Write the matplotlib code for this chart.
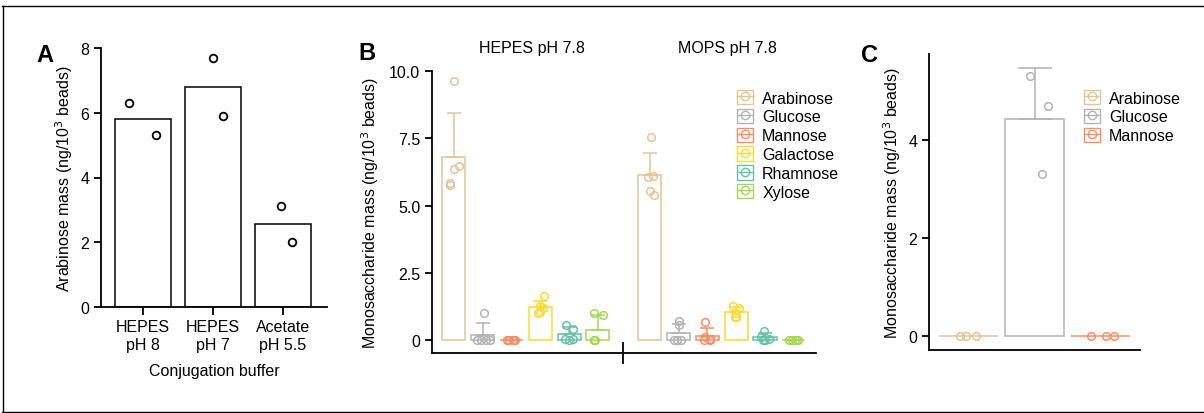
import numpy as np
import matplotlib
matplotlib.use('Agg')
import matplotlib.pyplot as plt
from matplotlib.patches import Rectangle
from matplotlib.lines import Line2D
from matplotlib.legend_handler import HandlerTuple

plt.rcParams['font.family'] = ['Liberation Sans', 'DejaVu Sans']
plt.rcParams['font.size'] = 11.5
plt.rcParams['axes.linewidth'] = 1.3
plt.rcParams['xtick.major.width'] = 1.3
plt.rcParams['ytick.major.width'] = 1.3
plt.rcParams['xtick.major.size'] = 5.5
plt.rcParams['ytick.major.size'] = 5

# panel A
buffers = ['HEPES\npH 8', 'HEPES\npH 7', 'Acetate\npH 5.5']
ara_mean = [5.81, 6.80, 2.56]
ara_points = [[6.30, 5.32], [7.69, 5.91], [3.12, 2.02]]
ara_jitter = [[-0.2, 0.19], [0.0, 0.14], [-0.03, 0.13]]

# panel B
sugars = ['Arabinose', 'Glucose', 'Mannose', 'Galactose', 'Rhamnose', 'Xylose']
sugar_colors = ['#E5C494', '#B3B3B3', '#FC8D62', '#FFD92F', '#66C2A5', '#A6D854']
buffers_b = ['HEPES pH 7.8', 'MOPS pH 7.8']
hepes_points = [
    [9.65, 5.78, 5.85, 6.36, 6.47],
    [0.99, 0.0, 0.0, 0.0, 0.0],
    [0.0, 0.0, 0.0, 0.0, 0.0],
    [1.63, 1.25, 1.18, 0.99, 1.05],
    [0.58, 0.42, 0.05, 0.0, 0.05],
    [1.0, 0.95, 0.0, 0.0, 0.0],
]
mops_points = [
    [7.54, 6.05, 6.10, 5.56, 5.40],
    [0.72, 0.55, 0.0, 0.0, 0.0],
    [0.66, 0.12, 0.05, 0.0, 0.0],
    [1.25, 1.20, 1.0, 0.85, 0.85],
    [0.35, 0.10, 0.05, 0.0, 0.0],
    [0.02, 0.0, 0.0, 0.01, 0.0],
]
hepes_jitter = [
    [0.0, -0.14, -0.14, 0.0, 0.16],
    [0.05, -0.2, -0.05, 0.1, 0.25],
    [-0.15, -0.1, 0.05, 0.1, 0.12],
    [0.14, 0.0, 0.1, -0.08, -0.02],
    [-0.1, 0.14, -0.15, 0.0, 0.15],
    [-0.12, 0.18, -0.12, -0.1, -0.14],
]
mops_jitter = [
    [0.03, -0.05, 0.1, 0.01, 0.15],
    [0.0, 0.0, -0.16, 0.1, -0.05],
    [-0.07, -0.1, 0.08, -0.12, 0.1],
    [-0.1, 0.08, -0.02, -0.05, 0.0],
    [-0.05, -0.15, 0.15, 0.0, -0.08],
    [-0.15, -0.05, 0.05, 0.15, 0.1],
]

# panel C
sugars_c = ['Arabinose', 'Glucose', 'Mannose']
colors_c = ['#E5C494', '#B3B3B3', '#FC8D62']
c_points = [[0.0, 0.0, 0.0], [5.32, 4.69, 3.31], [0.0, 0.0, 0.0]]
c_jitter = [[-0.13, -0.04, 0.12], [-0.07, 0.2, 0.12], [-0.14, 0.08, 0.2]]

ylab = 'Monosaccharide mass (ng/10$^3$ beads)'

fig = plt.figure(figsize=(12.04, 4.14), dpi=100)
W, H = 1204, 414


def px_axes(l, t, r, b):
    return fig.add_axes([l / W, 1 - b / H, (r - l) / W, (b - t) / H])


def legend_handles(colors):
    hs = []
    for c in colors:
        box = Rectangle((0, 0), 1, 1, facecolor='none', edgecolor=c, lw=1.0)
        ln = Line2D([], [], color=c, lw=1.0, marker='o', markersize=6,
                    markerfacecolor='none', markeredgewidth=1.0)
        hs.append((box, ln))
    return hs


def add_legend(ax, colors, labels, x_px, y_px):
    return ax.legend(legend_handles(colors), labels,
                     handler_map={tuple: HandlerTuple(ndivide=1, pad=0)},
                     loc='upper left', bbox_to_anchor=(x_px / W, 1 - y_px / H),
                     bbox_transform=fig.transFigure, frameon=False, borderpad=0,
                     borderaxespad=0, handlelength=1.0, handleheight=1.0,
                     handletextpad=0.58, labelspacing=0.2, fontsize=11.5)


# ---- A ----
axA = px_axes(101, 49, 327, 308)
xa = np.arange(len(buffers))
axA.bar(xa, ara_mean, width=0.8, facecolor='white', edgecolor='black', lw=1.1, zorder=1)
for i, (pts, jit) in enumerate(zip(ara_points, ara_jitter)):
    axA.plot(xa[i] + np.array(jit), pts, 'o', ms=5.5, mfc='white', mec='black', mew=1.3, zorder=3)
axA.set_xlim(-0.6, 2.63)
axA.set_ylim(0, 8)
axA.set_yticks([0, 2, 4, 6, 8])
axA.set_xticks(xa)
axA.set_xticklabels(buffers)
axA.set_xlabel('Conjugation buffer', labelpad=8)
axA.set_ylabel('Arabinose mass (ng/10$^3$ beads)')
for s in ['top', 'right']:
    axA.spines[s].set_visible(False)

# ---- B ----
axB = px_axes(432, 72.3, 816, 354)
group_start = [0.0, 6.8]
for g, (pts_all, jit_all) in enumerate([(hepes_points, hepes_jitter), (mops_points, mops_jitter)]):
    for i, (pts, jit) in enumerate(zip(pts_all, jit_all)):
        x = group_start[g] + i
        c = sugar_colors[i]
        m = np.mean(pts)
        sd = np.std(pts, ddof=1)
        axB.bar(x, m, width=0.8, facecolor='none', edgecolor=c, lw=1.1, zorder=2)
        axB.errorbar(x, m, yerr=[[0], [sd]], color=c, lw=1.1, capsize=5, capthick=1.1, zorder=2)
        axB.plot(x + np.array(jit), pts, 'o', ms=5.5, mfc='none', mec=c, mew=1.1, zorder=3)
    xc = group_start[g] + 2.5 + 0.2
    axB.text(xc, 1.083, buffers_b[g], transform=axB.get_xaxis_transform(),
             ha='center', va='center')
axB.set_xlim(-0.76, 12.57)
axB.set_ylim(-0.48, 10)
axB.set_yticks([0, 2.5, 5.0, 7.5, 10.0])
axB.set_yticklabels(['0', '2.5', '5.0', '7.5', '10.0'])
axB.set_xticks([])
for s in ['top', 'right']:
    axB.spines[s].set_visible(False)
# break mark between the two buffer groups
axB.plot([5.87, 5.87], [-0.0355, 0.0355], color='black', lw=1.3,
         transform=axB.get_xaxis_transform(), clip_on=False)
axB.set_ylabel(ylab, labelpad=6)
add_legend(axB, sugar_colors, sugars, 737, 91)

# ---- C ----
axC = px_axes(929, 55, 1140, 350.7)
xc_ = np.arange(len(sugars_c))
for i, (pts, jit) in enumerate(zip(c_points, c_jitter)):
    c = colors_c[i]
    m = np.mean(pts)
    sd = np.std(pts, ddof=1)
    axC.bar(xc_[i], m, width=0.9, facecolor='none', edgecolor=c, lw=1.1, zorder=2)
    if sd > 0:
        axC.errorbar(xc_[i], m, yerr=[[0], [sd]], color=c, lw=1.1, capsize=12, capthick=1.1, zorder=2)
    axC.plot(xc_[i] + np.array(jit), pts, 'o', ms=5.5, mfc='none', mec=c, mew=1.1, zorder=3)
axC.set_xlim(-0.6, 2.6)
axC.set_ylim(-0.29, 5.76)
axC.set_yticks([0, 2, 4])
axC.set_xticks([])
for s in ['top', 'right']:
    axC.spines[s].set_visible(False)
axC.set_ylabel(ylab)
add_legend(axC, colors_c, sugars_c, 1084, 91)

# panel letters
for lab, x, y in [('A', 45, 55), ('B', 367, 53), ('C', 870, 55)]:
    fig.text(x / W, 1 - y / H, lab, fontsize=17, fontweight='bold', ha='center', va='center')

# frame around the figure
fig.add_artist(Line2D([2 / W, 1], [1 - 7 / H, 1 - 7 / H], color='black', lw=1.0))
fig.add_artist(Line2D([2.5 / W, 2.5 / W], [1 - 7 / H, 1 / H], color='black', lw=1.0))
fig.add_artist(Line2D([2 / W, 1], [1 / H, 1 / H], color='black', lw=1.0))

fig.savefig('out.png', dpi=100)
